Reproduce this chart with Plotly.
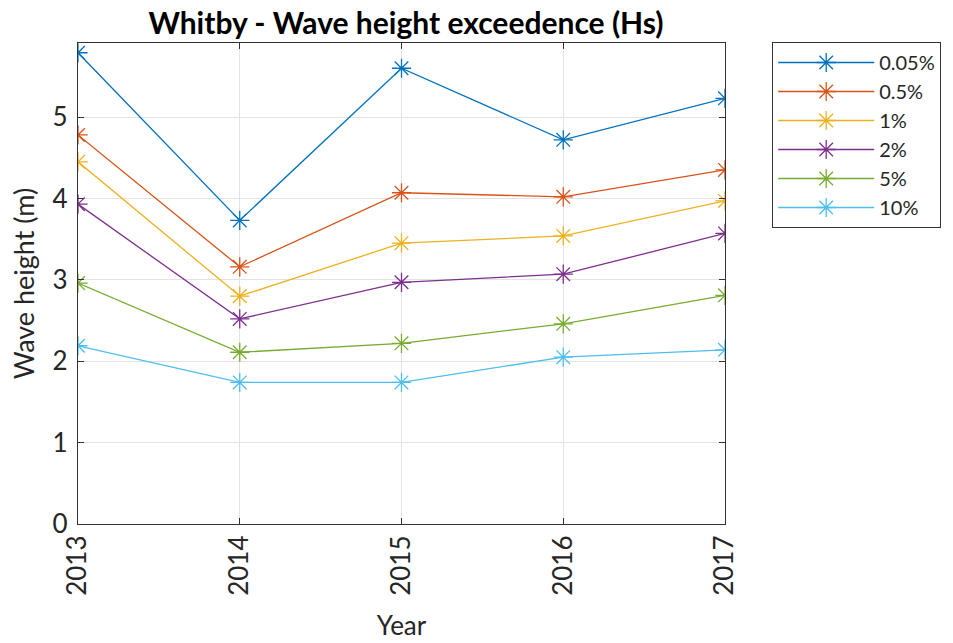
import plotly.graph_objects as go

years = [2013, 2014, 2015, 2016, 2017]
series_names = ["0.05%", "0.5%", "1%", "2%", "5%", "10%"]
hs_005 = [5.79, 3.73, 5.60, 4.72, 5.23]
hs_05 = [4.78, 3.16, 4.07, 4.02, 4.35]
hs_1 = [4.45, 2.80, 3.45, 3.54, 3.97]
hs_2 = [3.93, 2.52, 2.97, 3.07, 3.57]
hs_5 = [2.96, 2.11, 2.22, 2.46, 2.81]
hs_10 = [2.19, 1.74, 1.74, 2.05, 2.14]
colors = ["#0072BD", "#D95319", "#EDB120", "#7E2F8E", "#77AC30", "#4DBEEE"]

data = [hs_005, hs_05, hs_1, hs_2, hs_5, hs_10]
font = "Lato, Open Sans, sans-serif"

fig = go.Figure()
for name, vals, c in zip(series_names, data, colors):
    fig.add_trace(go.Scatter(
        x=years, y=vals, name=name, mode="lines+markers",
        line=dict(color=c, width=1.3),
        marker=dict(symbol="asterisk-open", size=16, color=c,
                    line=dict(color=c, width=1.3)),
    ))

axis_common = dict(
    showline=True, linecolor="#333333", linewidth=1.2, mirror="ticks",
    ticks="inside", ticklen=6, tickcolor="#333333",
    showgrid=True, gridcolor="#e3e3e3", gridwidth=1, zeroline=False,
    automargin=False,
    tickfont=dict(family=font, size=26, color="#262626"),
)

W, H = 953, 643
L, R, T, B = 78, 217, 43, 119
pw = W - L - R
ph = H - T - B
fig.update_layout(
    width=W, height=H,
    paper_bgcolor="white", plot_bgcolor="white",
    margin=dict(l=L, r=R, t=T, b=B),
    title=dict(text="<b>Whitby - Wave height exceedence (Hs)</b>",
               x=406 / W, xanchor="center", y=1 - 23 / H, yanchor="middle",
               font=dict(family=font, size=30, color="black")),
    xaxis=dict(axis_common, range=[2013, 2017], tickvals=years,
               ticktext=[str(y) for y in years], tickangle=-90,
               title=dict(text="Year", font=dict(family=font, size=26, color="#262626"),
                          standoff=21)),
    yaxis=dict(axis_common, range=[0, 5.91], tickvals=[0, 1, 2, 3, 4, 5],
               ticklabelstandoff=4,
               title=dict(text="Wave height (m)", font=dict(family=font, size=27, color="#262626"),
                          standoff=10)),
    legend=dict(x=(784 - L) / pw, y=(H - B - 42) / ph, xanchor="left", yanchor="top",
                bordercolor="#333333", borderwidth=1, bgcolor="white",
                font=dict(family=font, size=20, color="#262626"),
                itemwidth=96, tracegroupgap=0),
    showlegend=True,
)

fig.write_html("out.html", config={"displayModeBar": False},
               post_script="document.body.style.margin='0';document.body.style.overflow='hidden';")
